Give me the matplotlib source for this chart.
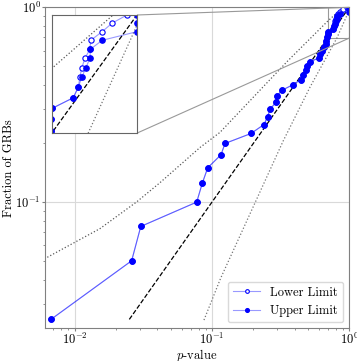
"""Cumulative p-value distribution of GRBs with a zoomed inset near (1, 1)."""

import matplotlib
matplotlib.use("Agg")
import matplotlib.pyplot as plt
from mpl_toolkits.axes_grid1.inset_locator import mark_inset

plt.rcParams["font.family"] = "serif"
plt.rcParams["font.serif"] = ["cmr10", "DejaVu Serif"]
plt.rcParams["mathtext.fontset"] = "cm"
plt.rcParams["axes.formatter.use_mathtext"] = True

# Fraction of GRBs (k / 40) for each sorted p-value
frac = [k / 40 for k in range(1, 41)]

# Sorted p-values, upper-limit case
p_upper = [0.00672, 0.0260, 0.0303, 0.0774, 0.0850, 0.0931, 0.1163, 0.1244,
           0.1923, 0.239, 0.2545, 0.2645, 0.2925, 0.296, 0.3236, 0.3873,
           0.4427, 0.4625, 0.4814, 0.4945, 0.5173, 0.601, 0.612, 0.636,
           0.658, 0.673, 0.682, 0.693, 0.694, 0.696, 0.762, 0.778,
           0.790, 0.804, 0.818, 0.820, 0.862, 1.0, 1.0, 1.0]

# Sorted p-values, lower-limit case (differs only at the top)
p_lower = p_upper[:32] + [0.784, 0.790, 0.801, 0.818, 0.821, 0.862, 0.899, 0.958]

# Expected uniform distribution
diag = [0.025, 1.0]

# Confidence band (dotted)
band_hi_x = [0.0006, 0.00568, 0.01529, 0.0283, 0.0418, 0.0818, 0.1143, 0.3594, 0.695, 0.903]
band_hi_y = [0.025, 0.05, 0.0731, 0.1003, 0.1258, 0.1907, 0.228, 0.534, 0.848, 1.0]
band_lo_x = [0.0874, 0.1157, 0.3306, 0.5173, 0.812, 0.978, 1.0]
band_lo_y = [0.0248, 0.0407, 0.2065, 0.389, 0.695, 0.935, 0.97]

fig = plt.figure(figsize=(3.57, 3.61), dpi=100)
ax = fig.add_axes([0.1252, 0.0906, 0.8532, 0.8892])


def draw(a):
    a.plot(band_hi_x, band_hi_y, ls=":", color="0.35", lw=0.9)
    a.plot(band_lo_x, band_lo_y, ls=":", color="0.45", lw=0.9)
    a.plot(diag, diag, ls="--", color="k", lw=0.9)
    a.plot(p_lower, frac, color=(0, 0, 1, 0.4), lw=0.8, marker="o", ms=3.8,
           mfc="white", mec="blue", mew=0.8, label="Lower Limit")
    a.plot(p_upper, frac, color=(0, 0, 1, 0.4), lw=0.8, marker="o", ms=3.8,
           mfc="blue", mec="blue", label="Upper Limit")
    a.set_xscale("log")
    a.set_yscale("log")


draw(ax)
ax.set_xlim(min(p_upper) * 0.9, 1)
ax.set_ylim(min(frac) * 0.9, 1)
ax.grid(True, which="major", color="0.85", lw=0.8)
ax.set_xlabel(r"$p$-value", fontsize=9, labelpad=0)
ax.set_ylabel("Fraction of GRBs", fontsize=9, labelpad=0)
ax.tick_params(which="major", length=2, pad=0.8)
ax.tick_params(which="minor", length=1.3)
ax.tick_params(which="both", labelsize=9, color="0.5")
for s in ax.spines.values():
    s.set_color("0.5")
ax.legend(loc="lower right", fontsize=9, edgecolor="0.85", framealpha=1,
          handlelength=2.2, markerscale=0.7)

# Zoomed inset near the top-right corner
axins = ax.inset_axes([0.023, 0.608, 0.28, 0.368])
draw(axins)
axins.set_xlim(0.695, 1.0)
axins.set_ylim(0.695, 1.0)
axins.tick_params(which="both", left=False, bottom=False,
                  labelleft=False, labelbottom=False)
for s in axins.spines.values():
    s.set_color("0.4")
mark_inset(ax, axins, loc1=1, loc2=4, fc="none", ec="0.6", lw=0.8)

fig.savefig("out.png", dpi=100)
